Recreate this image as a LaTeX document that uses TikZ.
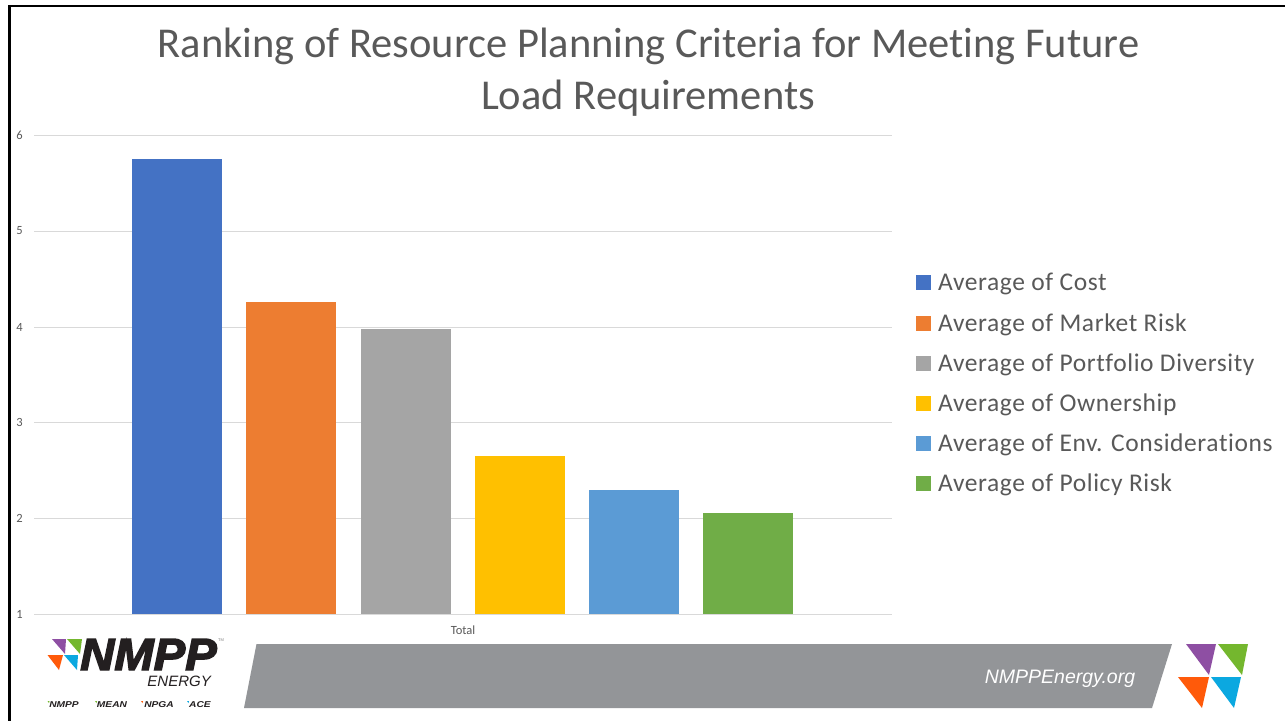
\documentclass[tikz,border=0pt]{standalone}
\usepackage{fontspec}
\setmainfont[Ligatures=NoCommon]{Carlito}
\newfontfamily\logofont{Liberation Sans}
\definecolor{barblue}{HTML}{4472C4}
\definecolor{barorange}{HTML}{ED7D31}
\definecolor{bargray}{HTML}{A5A5A5}
\definecolor{baryellow}{HTML}{FFC000}
\definecolor{barsky}{HTML}{5B9BD5}
\definecolor{bargreen}{HTML}{70AD47}
\definecolor{titlegray}{HTML}{595959}
\definecolor{gridgray}{HTML}{D9D9D9}
\definecolor{bandgray}{HTML}{939598}
\definecolor{logopurple}{HTML}{8E4FA3}
\definecolor{logogreen}{HTML}{74B72E}
\definecolor{logoorange}{HTML}{FF5A0A}
\definecolor{logocyan}{HTML}{0BA8E0}
\definecolor{logoink}{HTML}{231F20}
\newcommand{\fatstroke}[1]{\special{pdf:code q 2 Tr #1 w 0.137 0.122 0.125 RG}}
\newcommand{\fatend}{\special{pdf:code 0 Tr Q}}
\tikzset{
  x=1pt,y=-1pt,
  gridline/.style={draw=gridgray,line width=0.8pt},
  axislabel/.style={text=titlegray,font=\fontsize{12.5}{14}\selectfont,inner sep=0pt},
  legendlabel/.style={text=titlegray,font=\addfontfeatures{LetterSpace=2.3}\fontsize{25.5}{30}\selectfont,anchor=west,inner sep=0pt},
  titlelabel/.style={text=titlegray,font=\fontsize{42.5}{50}\selectfont,inner sep=0pt,align=center},
  subbrand/.style={text=logoink,font=\logofont\bfseries\itshape\fontsize{8.5}{10}\selectfont,inner sep=0pt,xscale=1.2},
}
\newcommand{\barrect}[3]{\fill[#3] (#1,#2) rectangle (#1+90,614);}
\newcommand{\keyswatch}[2]{\fill[#2] (916,#1-7.5) rectangle (931,#1+7.5);}
\begin{document}
\begin{tikzpicture}
\useasboundingbox (0,0) rectangle (1285,721);
\fill[white] (0,0) rectangle (1285,721);
% frame
\fill[black] (8,5) rectangle (1285,7);
\fill[black] (8,5) rectangle (11,721);
% title
\node[titlelabel] (title1) at (648.5,46) {Ranking of Resource Planning Criteria for Meeting Future};
\node[titlelabel] (title2) at (648,98) {Load Requirements};
% grid
\foreach \yy/\lab in {135.5/6,231/5,327/4,422.5/3,518/2,614/1}{
  \draw[gridline] (34,\yy) -- (892,\yy);
  \node[axislabel] (tick\lab) at (19.5,\yy) {\lab};
}
% bars
\barrect{132}{159}{barblue}
\barrect{246}{302}{barorange}
\barrect{361}{329}{bargray}
\barrect{475}{456}{baryellow}
\barrect{589}{490}{barsky}
\barrect{703}{513}{bargreen}
\node[axislabel] (cat) at (463,630) {Total};
% legend
\keyswatch{282.5}{barblue}
\keyswatch{323}{barorange}
\keyswatch{363}{bargray}
\keyswatch{403}{baryellow}
\keyswatch{443}{barsky}
\keyswatch{483}{bargreen}
\node[legendlabel] (l1) at (938,284) {Average of Cost};
\node[legendlabel] (l2) at (938,325) {Average of Market Risk};
\node[legendlabel] (l3) at (938,365) {Average of Portfolio Diversity};
\node[legendlabel] (l4) at (938,405) {Average of Ownership};
\node[legendlabel] (l5) at (938,445) {Average of Env. Considerations};
\node[legendlabel] (l6) at (938,485) {Average of Policy Risk};
% band
\fill[bandgray] (256.5,644) -- (1172,644) -- (1152,708) -- (244,708) -- cycle;
\node[text=white,font=\logofont\itshape\fontsize{19.5}{24}\selectfont,inner sep=0pt] (url) at (1060,678.5) {NMPPEnergy.org};
% big mark
\fill[logopurple] (1186,644) -- (1216,644) -- (1209,675) -- cycle;
\fill[logogreen] (1218,644) -- (1248,644) -- (1242,675) -- cycle;
\fill[logoorange] (1178,677) -- (1209,677) -- (1202,708) -- cycle;
\fill[logocyan] (1211,677) -- (1241,677) -- (1234,708) -- cycle;
% small logo mark
\fill[logopurple] (52,639) -- (66,639) -- (65,654) -- cycle;
\fill[logogreen] (67,639) -- (82,639) -- (80,654) -- cycle;
\fill[logoorange] (47.5,655) -- (63,655) -- (59,670) -- cycle;
\fill[logocyan] (64,655) -- (78,655) -- (77,670) -- cycle;
\node[text=logoink,font=\logofont\bfseries\itshape\fontsize{45}{50}\selectfont,inner sep=0pt,anchor=base west,xscale=1.05] (brand) at (80,670) {\fatstroke{1.4}NMPP\fatend};
\node[text=logoink,font=\logofont\itshape\fontsize{15}{18}\selectfont,inner sep=0pt,anchor=east] (energy) at (211,681) {ENERGY};
\node[text=gray,font=\logofont\fontsize{4}{5}\selectfont,inner sep=0pt] (tm) at (221,640) {TM};
\node[subbrand] (s1) at (64,704.5) {NMPP};
\node[subbrand] (s2) at (112,704.5) {MEAN};
\node[subbrand] (s3) at (159,704.5) {NPGA};
\node[subbrand] (s4) at (200,704.5) {ACE};
\fill[logogreen] (47.5,701) -- (49.5,701) -- (49,703) -- cycle;
\fill[logogreen] (95,701) -- (97,701) -- (96.5,703) -- cycle;
\fill[logoorange] (141,701) -- (143,701) -- (142.5,703) -- cycle;
\fill[logocyan] (187,701) -- (189,701) -- (188.5,703) -- cycle;
\end{tikzpicture}
\end{document}
